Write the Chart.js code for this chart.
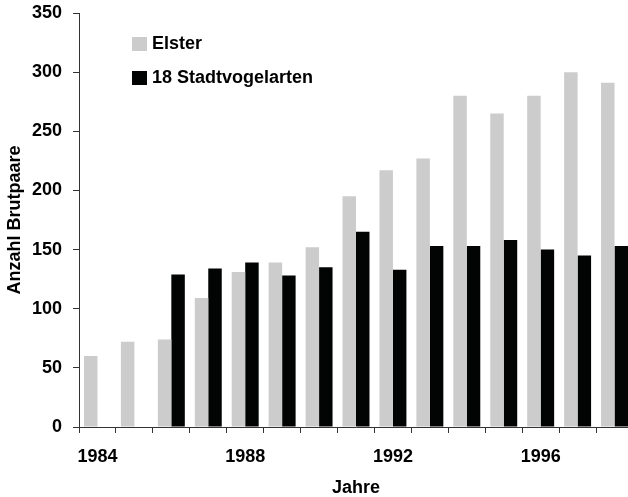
<!DOCTYPE html>
<html>
<head>
<meta charset="utf-8">
<script src="https://cdn.jsdelivr.net/npm/chart.js@4"></script>
<style>
  html, body { margin: 0; padding: 0; background: #fff; overflow: hidden; }
  #wrap { width: 640px; height: 497px; }
</style>
</head>
<body>
<div id="wrap"><canvas id="brutChart"></canvas></div>
<script>
const years = [1984, 1985, 1986, 1987, 1988, 1989, 1990, 1991, 1992, 1993, 1994, 1995, 1996, 1997, 1998];
const elster = [60, 72, 74, 109, 131, 139, 152, 195, 217, 227, 280, 265, 280, 300, 291];
const stadtvoegel = [null, null, 129, 134, 139, 128, 135, 165, 133, 153, 153, 158, 150, 145, 153];
const yTicks = [0, 50, 100, 150, 200, 250, 300, 350];

const FONT = "'Liberation Sans', Arial, Helvetica, sans-serif";

// legend drawn inside the plot area, like the original
const innerLegend = {
  id: "innerLegend",
  afterDraw(chart) {
    const c = chart.ctx;
    const a = chart.chartArea;
    c.save();
    c.font = "bold 18px " + FONT;
    c.textBaseline = "middle";
    c.textAlign = "left";
    chart.data.datasets.forEach((ds, i) => {
      const y = a.top + 31 + i * 34;
      c.fillStyle = ds.backgroundColor;
      c.fillRect(a.left + 53, y - 7, 15, 14);
      c.fillStyle = "#000";
      c.fillText(ds.label, a.left + 73, y);
    });
    c.restore();
  }
};

const ctx = document.getElementById("brutChart").getContext("2d");

new Chart(ctx, {
  type: "bar",
  data: {
    labels: years.map(String),
    datasets: [
      {
        label: "Elster",
        data: elster,
        backgroundColor: "#cccccc",
        categoryPercentage: 0.73,
        barPercentage: 1.0
      },
      {
        label: "18 Stadtvogelarten",
        data: stadtvoegel,
        backgroundColor: "#020403",
        categoryPercentage: 0.73,
        barPercentage: 1.0
      }
    ]
  },
  options: {
    responsive: true,
    maintainAspectRatio: false,
    animation: false,
    layout: { padding: { top: 13, right: 7, bottom: 0, left: 0 } },
    plugins: {
      legend: { display: false },
      tooltip: { enabled: false }
    },
    scales: {
      x: {
        grid: {
          display: true,
          drawOnChartArea: false,
          drawTicks: true,
          tickLength: 6,
          color: "#333"
        },
        border: { display: true, color: "#333", width: 1 },
        ticks: {
          autoSkip: false,
          maxRotation: 0,
          padding: 13,
          color: "#000",
          font: { family: FONT, size: 18, weight: "bold" },
          callback: (v, i) => (years[i] % 4 === 0 ? String(years[i]) : "")
        },
        title: {
          display: true,
          text: "Jahre",
          color: "#000",
          padding: { top: 0, bottom: 0 },
          font: { family: FONT, size: 18, weight: "bold", lineHeight: 1 }
        },
        afterFit: s => { s.height = 70; s.paddingLeft = 0; s.paddingRight = 0; }
      },
      y: {
        min: 0,
        max: 350,
        afterBuildTicks: s => { s.ticks = yTicks.map(v => ({ value: v })); },
        grid: {
          display: true,
          drawOnChartArea: false,
          drawTicks: true,
          tickLength: 6,
          color: "#333"
        },
        border: { display: true, color: "#333", width: 1 },
        ticks: {
          padding: 11,
          color: "#000",
          font: { family: FONT, size: 18, weight: "bold" }
        },
        title: {
          display: true,
          text: "Anzahl Brutpaare",
          color: "#000",
          padding: { top: 6, bottom: 0 },
          font: { family: FONT, size: 18, weight: "bold", lineHeight: 1 }
        },
        afterFit: s => { s.width = 79; s.paddingTop = 0; s.paddingBottom = 0; }
      }
    }
  },
  plugins: [innerLegend]
});
</script>
</body>
</html>
